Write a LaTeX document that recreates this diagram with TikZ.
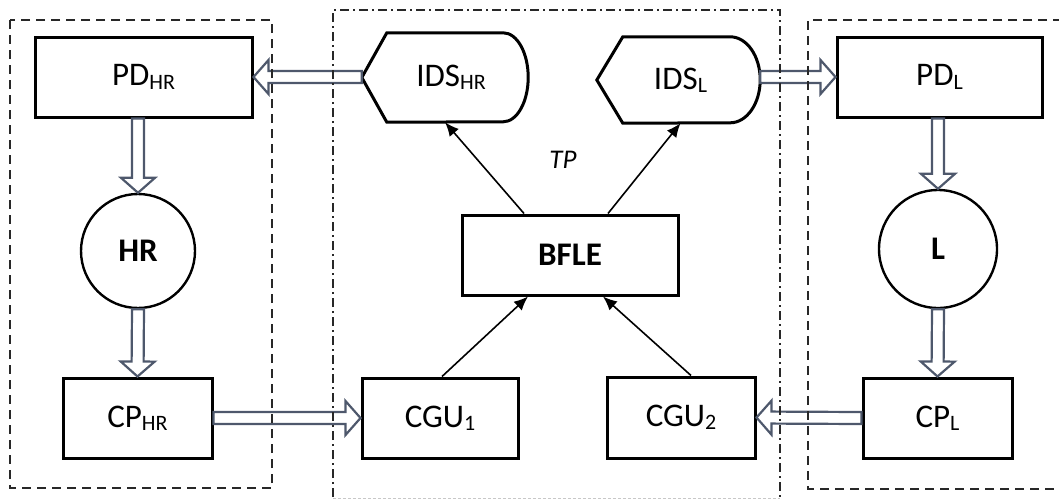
\documentclass[tikz,border=0pt]{standalone}
\usepackage{fontspec}
\setmainfont{Carlito}
\usetikzlibrary{calc,arrows.meta}
\definecolor{fatcol}{RGB}{78,88,108}
\definecolor{dashcol}{RGB}{40,40,40}
\definecolor{faintcol}{RGB}{200,200,200}
\newcommand\sbs[1]{\raisebox{-0.1em}{\fontsize{22}{22}\selectfont #1}}
\newcommand\fatarrow[2]{%
  \coordinate (faS) at (#1);
  \coordinate (faT) at (#2);
  \coordinate (faB) at ($(faT)!15pt!(faS)$);
  \draw[fatshape] ($(faS)!6pt!90:(faT)$) -- ($(faB)!6pt!90:(faT)$) -- ($(faB)!17pt!90:(faT)$) -- (faT) -- ($(faB)!17pt!-90:(faT)$) -- ($(faB)!6pt!-90:(faT)$) -- ($(faS)!6pt!-90:(faT)$) -- cycle;
}
\begin{document}
\begin{tikzpicture}[x=1pt,y=1pt,
  txt/.style={font=\fontsize{33}{36}\selectfont},
  boxnode/.style={draw, line width=3pt, inner sep=0pt, txt},
  circnode/.style={circle, draw, line width=2.4pt, inner sep=0pt, font=\fontsize{33}{36}\selectfont\bfseries},
  idsnode/.style={inner sep=0pt, txt},
  idsline/.style={draw, line width=3pt, line join=miter},
  fatshape/.style={draw=fatcol, fill=white, line width=2.2pt, line join=miter},
  thinarr/.style={-{Latex[length=14pt,width=12pt]}, line width=1.6pt},
  dashframe/.style={draw=dashcol, line width=1.6pt, dash pattern=on 9pt off 6pt},
  dotframe/.style={draw=dashcol, line width=1.5pt, dash pattern=on 9pt off 4pt on 2pt off 4pt}
]
\useasboundingbox (0,0) rectangle (1059,-501);

% nodes
\node[boxnode, minimum width=217pt, minimum height=80pt] (PDHR) at (143.5,-77) {PD\sbs{HR}};
\node[boxnode, minimum width=205pt, minimum height=80pt] (PDL) at (939.5,-77) {PD\sbs{L}};
\node[circnode, minimum size=114pt] (HR) at (138,-251) {HR};
\node[circnode, minimum size=118pt] (L) at (938,-249) {L};
\node[boxnode, minimum width=149pt, minimum height=80pt] (CPHR) at (137.5,-418) {CP\sbs{HR}};
\node[boxnode, minimum width=156pt, minimum height=80pt] (CGU1) at (440,-418) {CGU\sbs{1}};
\node[boxnode, minimum width=148pt, minimum height=81pt] (CGU2) at (681,-417.5) {CGU\sbs{2}};
\node[boxnode, minimum width=149pt, minimum height=80pt] (CPL) at (937.5,-418) {CP\sbs{L}};
\node[boxnode, minimum width=216pt, minimum height=80pt, font=\fontsize{33}{36}\selectfont\bfseries] (BFLE) at (570,-255) {BFLE};
\node[font=\fontsize{27}{30}\selectfont\itshape] (TP) at (563,-160) {TP};
\node[idsnode, minimum width=166pt, minimum height=89pt] (IDSHR) at (445,-77.5) {\hspace*{12pt}IDS\sbs{HR}};
\node[idsnode, minimum width=163pt, minimum height=86pt] (IDSL) at (678.5,-80) {\hspace*{4pt}IDS\sbs{L}};

% display shapes
\draw[idsline] (IDSHR.west) -- ([xshift=25pt]IDSHR.north west) -- ([xshift=-25pt]IDSHR.north east)
  arc[start angle=90, end angle=-90, x radius=25pt, y radius=44.5pt] -- ([xshift=25pt]IDSHR.south west) -- cycle;
\draw[idsline] (IDSL.west) -- ([xshift=26pt]IDSL.north west) -- ([xshift=-30pt]IDSL.north east)
  arc[start angle=90, end angle=-90, x radius=30pt, y radius=43pt] -- ([xshift=26pt]IDSL.south west) -- cycle;

% fat arrows
\fatarrow{IDSHR.west |- PDHR.east}{PDHR.east}
\fatarrow{IDSL.east |- PDL.west}{PDL.west}
\fatarrow{HR.north |- PDHR.south}{HR.north}
\fatarrow{HR.south}{CPHR.north}
\fatarrow{L.north |- PDL.south}{L.north}
\fatarrow{L.south}{CPL.north}
\fatarrow{CPHR.east}{CGU1.west}
\fatarrow{CPL.west}{CGU2.east}

% thin arrows
\draw[thinarr] ([xshift=-46pt]BFLE.north) -- (IDSHR.south);
\draw[thinarr] ([xshift=38pt]BFLE.north) -- ([xshift=2pt]IDSL.south);
\draw[thinarr] ([xshift=2pt]CGU1.north) -- ([xshift=-42pt]BFLE.south);
\draw[thinarr] ([xshift=10pt]CGU2.north) -- ([xshift=33pt]BFLE.south);

% frames
\draw[dashframe] (10,-20) rectangle (272,-488);
\draw[dashframe] (1062,-20) -- (808,-20) -- (808,-489) -- (1062,-489);
\draw[dotframe] (333,-497) -- (333,-10) -- (780,-10) -- (780,-497);
\draw[draw=faintcol, line width=1pt, dash pattern=on 3pt off 2pt] (333,-498) -- (780,-498);
\end{tikzpicture}
\end{document}
